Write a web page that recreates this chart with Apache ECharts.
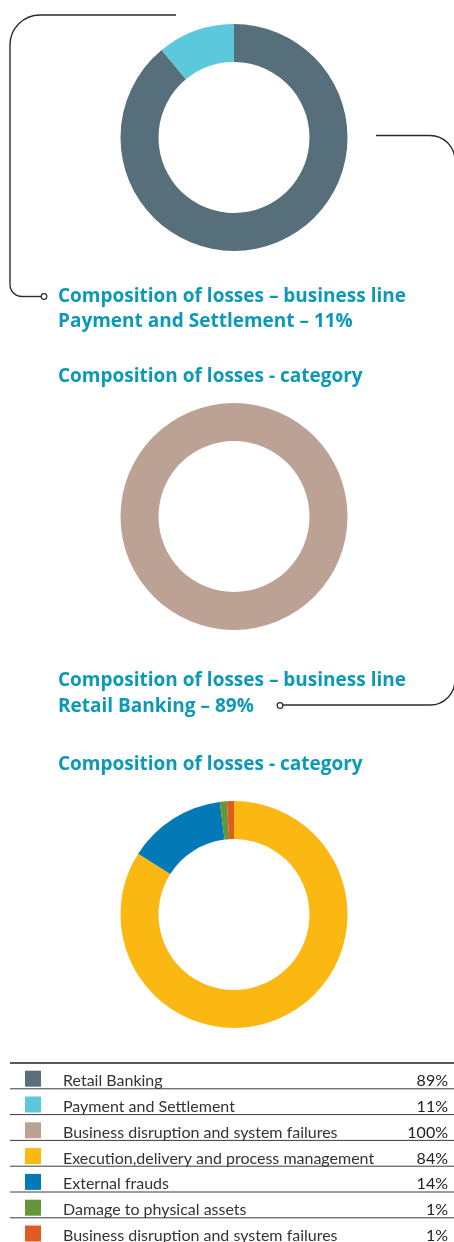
<!DOCTYPE html>
<html>
<head>
<meta charset="utf-8">
<script src="https://cdn.jsdelivr.net/npm/echarts@6/dist/echarts.min.js"></script>
<style>
  html, body { margin: 0; padding: 0; background: #fff; }
  #chart { width: 454px; height: 1242px; }
</style>
</head>
<body>
<div id="chart"></div>
<script>
// Losses by business line
const lineNames = ['Retail Banking', 'Payment and Settlement'];
const lineValues = [89, 11];
const lineColors = ['#566f7b', '#5bc8dc'];

// Losses by category, business line: Payment and Settlement
const payCatNames = ['Business disruption and system failures'];
const payCatValues = [100];
const payCatColors = ['#bca195'];

// Losses by category, business line: Retail Banking
const retailCatNames = ['Execution,delivery and process management', 'External frauds', 'Damage to physical assets', 'Business disruption and system failures'];
const retailCatValues = [84, 14, 1, 1];
const retailCatColors = ['#fbb813', '#0379b5', '#66963a', '#e05a22'];

// Table rows
const tableNames = lineNames.concat(payCatNames, retailCatNames);
const tableValues = lineValues.concat(payCatValues, retailCatValues);
const tableColors = lineColors.concat(payCatColors, retailCatColors);

const titleColor = '#0b99b6';
const titleFont = 'bold 19px "Open Sans"';
const tableFont = '16px Lato';
const connStyle = { stroke: '#2a2a2a', lineWidth: 1.4, fill: null };

function donut(names, values, colors, cy) {
  return {
    type: 'pie',
    center: [234, cy],
    radius: [75.5, 113.5],
    startAngle: 90,
    clockwise: true,
    silent: true,
    label: { show: false },
    labelLine: { show: false },
    emphasis: { disabled: true },
    data: names.map((n, i) => ({ name: n, value: values[i], itemStyle: { color: colors[i] } }))
  };
}

function title(text, y) {
  return {
    type: 'text', x: 58, y: y + 1,
    style: { text: text, fill: titleColor, font: titleFont, textVerticalAlign: 'middle' }
  };
}

function seg(x1, y1, x2, y2) {
  return { type: 'line', shape: { x1, y1, x2, y2 }, style: connStyle };
}
function corner(cx, cy, r, a0, a1) {
  return { type: 'arc', shape: { cx, cy, r, startAngle: a0, endAngle: a1, clockwise: true }, style: connStyle };
}

const PI = Math.PI;
const graphics = [
  // connector: Payment and Settlement
  seg(176, 15, 40, 15),
  corner(40, 45, 30, PI, 1.5 * PI),
  seg(10, 45, 10, 284.5),
  corner(22, 284.5, 12, 0.5 * PI, PI),
  seg(22, 296.5, 41, 296.5),
  { type: 'circle', shape: { cx: 44, cy: 296.5, r: 2.8 }, style: { fill: '#fff', stroke: '#2a2a2a', lineWidth: 1.2 } },
  // connector: Retail Banking
  seg(376, 135.5, 430, 135.5),
  corner(430, 160.5, 25, 1.5 * PI, 2 * PI),
  seg(455, 160.5, 455, 680),
  corner(430, 680, 25, 0, 0.5 * PI),
  seg(430, 705, 283, 705),
  { type: 'circle', shape: { cx: 280, cy: 705.5, r: 2.8 }, style: { fill: '#fff', stroke: '#2a2a2a', lineWidth: 1.2 } },
  title('Composition of losses \u2013 business line', 296),
  title('Payment and Settlement \u2013 11%', 321),
  title('Composition of losses - category', 376),
  title('Composition of losses \u2013 business line', 680),
  title('Retail Banking \u2013 89%', 706),
  title('Composition of losses - category', 764)
];

// Table with colour keys and shares
const tableTop = 1063;
const rowPitch = 25.8;
tableNames.forEach((name, i) => {
  const y0 = tableTop + i * rowPitch;
  graphics.push({ type: 'line', shape: { x1: 10, y1: y0, x2: 454, y2: y0 },
    style: { stroke: i === 0 ? '#222' : '#3a3a3a', lineWidth: i === 0 ? 1.3 : 1 } });
  graphics.push({ type: 'rect', shape: { x: 25, y: y0 + 7.7, width: 16, height: 16 }, style: { fill: tableColors[i] } });
  graphics.push({ type: 'text', x: 63, y: y0 + 18,
    style: { text: name, fill: '#333', font: tableFont, textVerticalAlign: 'middle', textAlign: 'left' } });
  graphics.push({ type: 'text', x: 448, y: y0 + 18,
    style: { text: tableValues[i] + '%', fill: '#222', font: tableFont, textVerticalAlign: 'middle', textAlign: 'right' } });
});

const chart = echarts.init(document.getElementById('chart'), null, { renderer: 'canvas' });
chart.setOption({
  animation: false,
  backgroundColor: '#fff',
  series: [
    donut(lineNames, lineValues, lineColors, 137.5),
    donut(payCatNames, payCatValues, payCatColors, 516.5),
    donut(retailCatNames, retailCatValues, retailCatColors, 914.5)
  ],
  graphic: graphics
});
</script>
</body>
</html>
